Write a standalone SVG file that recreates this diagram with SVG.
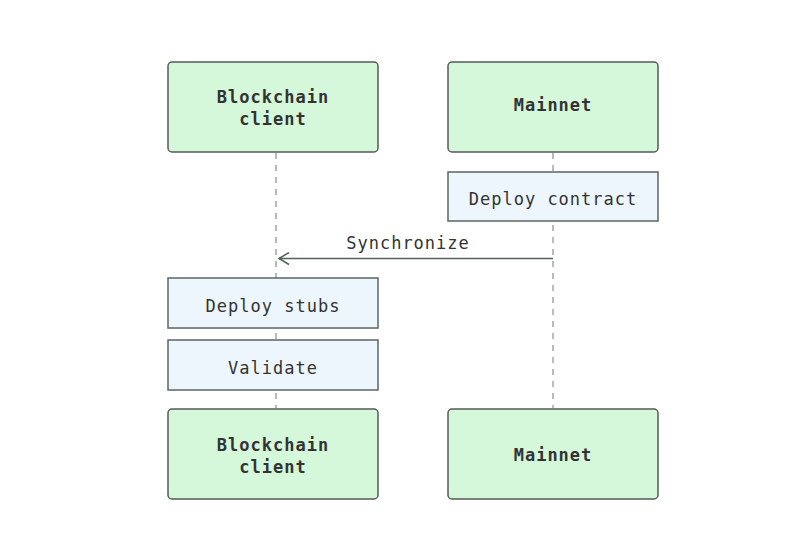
<svg xmlns="http://www.w3.org/2000/svg" width="800" height="557" viewBox="0 0 800 557">
<defs>
<style>
.actor{fill:#d5f7da;stroke:#555b57;stroke-width:1.5}
.note{fill:#eef6fd;stroke:#5b6660;stroke-width:1.5}
.life{stroke:#8a918c;stroke-width:1.2;stroke-dasharray:6,6;fill:none}
.t{font-family:"DejaVu Sans Mono","Liberation Mono",monospace;font-size:17px;letter-spacing:1px;fill:#333;text-anchor:middle}
.b{font-weight:bold}
.msg{stroke:#4f6356;stroke-width:1.5;fill:none}
</style>
<marker id="arr" markerWidth="14" markerHeight="14" refX="12" refY="7" orient="auto" markerUnits="userSpaceOnUse">
<path d="M2,1 L12,7 L2,13" fill="none" stroke="#4f6356" stroke-width="1.5"/>
</marker>
</defs>
<rect width="800" height="557" fill="#fff"/>
<g id="lifelines">
<line class="life" x1="276" y1="153" x2="276" y2="408"/>
<line class="life" x1="553" y1="153" x2="553" y2="408"/>
</g>
<g id="actor-client-top">
<rect class="actor" x="168" y="62" width="210" height="90" rx="4"/>
<text class="t b" x="273" y="103">Blockchain</text>
<text class="t b" x="273" y="125">client</text>
</g>
<g id="actor-mainnet-top">
<rect class="actor" x="448" y="62" width="210" height="90" rx="4"/>
<text class="t b" x="553" y="111">Mainnet</text>
</g>
<g id="note-deploy-contract">
<rect class="note" x="448" y="172" width="210" height="49"/>
<text class="t" x="553" y="205">Deploy contract</text>
</g>
<g id="connectors">
<line class="msg" x1="553" y1="258.5" x2="279" y2="258.5" marker-end="url(#arr)"/>
<text class="t" x="408" y="249">Synchronize</text>
</g>
<g id="note-deploy-stubs">
<rect class="note" x="168" y="278" width="210" height="50"/>
<text class="t" x="273" y="312">Deploy stubs</text>
</g>
<g id="note-validate">
<rect class="note" x="168" y="340" width="210" height="50"/>
<text class="t" x="273" y="374">Validate</text>
</g>
<g id="actor-client-bottom">
<rect class="actor" x="168" y="409" width="210" height="90" rx="4"/>
<text class="t b" x="273" y="451">Blockchain</text>
<text class="t b" x="273" y="473">client</text>
</g>
<g id="actor-mainnet-bottom">
<rect class="actor" x="448" y="409" width="210" height="90" rx="4"/>
<text class="t b" x="553" y="461">Mainnet</text>
</g>
</svg>
